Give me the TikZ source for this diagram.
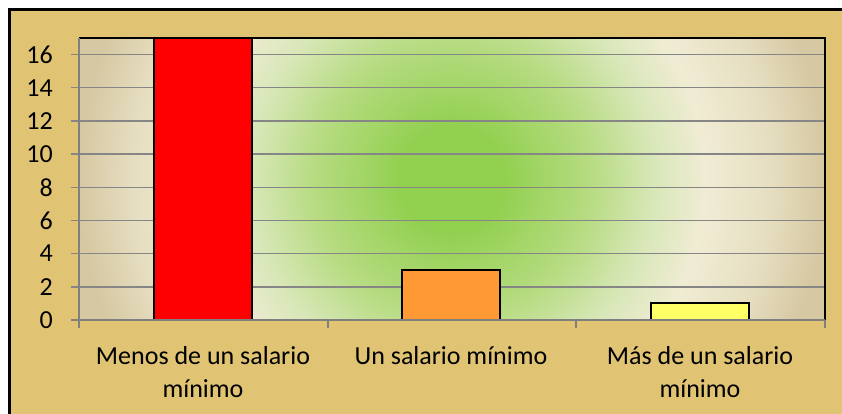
\documentclass[tikz,border=0pt]{standalone}
\usepackage{fontspec}
\setmainfont{Carlito}
\definecolor{framegold}{RGB}{224,196,116}
\definecolor{gridgray}{RGB}{134,134,134}
\definecolor{axisgray}{RGB}{128,128,128}
\definecolor{glowgreen}{RGB}{146,208,80}
\definecolor{glowmid}{RGB}{184,220,132}
\definecolor{glowpale}{RGB}{216,231,184}
\definecolor{glowcream}{RGB}{240,236,212}
\definecolor{glowtan}{RGB}{214,200,162}
\definecolor{barorange}{RGB}{255,153,51}
\definecolor{baryellow}{RGB}{255,255,102}
\pgfdeclareradialshading{plotglow}{\pgfpoint{0bp}{0bp}}{color(0bp)=(glowgreen); color(3.5bp)=(glowgreen); color(9.5bp)=(glowmid); color(13.5bp)=(glowpale); color(17bp)=(glowcream); color(21.5bp)=(glowcream!60!glowtan); color(25bp)=(glowtan); color(50bp)=(glowtan)}

\begin{document}
\begin{tikzpicture}
            [x=1pt, y=-1pt, font=\fontsize{26}{33}\selectfont,
             grid/.style={draw=gridgray, line width=1.5pt},
             bar/.style={draw=black, line width=2pt, minimum width=98pt, anchor=south, inner sep=0pt, outer sep=0pt},
             ylabel/.style={anchor=east, inner sep=0pt},
             xlabel/.style={align=center, anchor=base, inner sep=0pt}]
            \useasboundingbox (0, 0) rectangle (842, 414);
            \fill[white] (0, 0) rectangle (842, 414);
            \fill[framegold] (9.5, 9.5) rectangle (842, 414);
            \draw[black, line width=3pt] (9.5, 414) -- (9.5, 9.5) -- (842, 9.5);

            \coordinate (plotsw) at (79, 320);
            \coordinate (plotne) at (825, 38);
            \begin{scope}
                \clip (plotsw) rectangle (plotne);
                \shade[shading=plotglow] (79, -193) rectangle (825, 552);
            \end{scope}

            \draw[grid] (71, 286.8) -- (825, 286.8);
            \draw[grid] (71, 253.6) -- (825, 253.6);
            \draw[grid] (71, 220.5) -- (825, 220.5);
            \draw[grid] (71, 187.3) -- (825, 187.3);
            \draw[grid] (71, 154.1) -- (825, 154.1);
            \draw[grid] (71, 120.9) -- (825, 120.9);
            \draw[grid] (71, 87.7) -- (825, 87.7);
            \draw[grid] (71, 54.6) -- (825, 54.6);

            \node[bar, fill=red, minimum height=282pt] (menos) at (203, 320) {};
            \node[bar, fill=barorange, minimum height=49.8pt] (uno) at (451, 320) {};
            \node[bar, fill=baryellow, minimum height=16.6pt] (mas) at (700, 320) {};

            \draw[black, line width=2.5pt] (79, 38) -- (825, 38) -- (825, 320);
            \draw[axisgray, line width=2pt] (71, 320) -- (825, 320);
            \draw[axisgray, line width=2pt] (79, 38) -- (79, 328);
            \draw[axisgray, line width=2pt] (328, 320) -- (328, 328);
            \draw[axisgray, line width=2pt] (576, 320) -- (576, 328);
            \draw[axisgray, line width=2pt] (825, 320) -- (825, 328);

            \node[ylabel] (y0) at (53, 320) {0};
            \node[ylabel] (y2) at (53, 286.8) {2};
            \node[ylabel] (y4) at (53, 253.6) {4};
            \node[ylabel] (y6) at (53, 220.5) {6};
            \node[ylabel] (y8) at (53, 187.3) {8};
            \node[ylabel] (y10) at (53, 154.1) {10};
            \node[ylabel] (y12) at (53, 120.9) {12};
            \node[ylabel] (y14) at (53, 87.7) {14};
            \node[ylabel] (y16) at (53, 54.6) {16};

            \node[xlabel] (lmenos) at (203, 397) {Menos de un salario\\mínimo};
            \node[xlabel] (luno) at (451, 364) {Un salario mínimo};
            \node[xlabel] (lmas) at (700, 397) {Más de un salario\\mínimo};
        \end{tikzpicture}
\end{document}
